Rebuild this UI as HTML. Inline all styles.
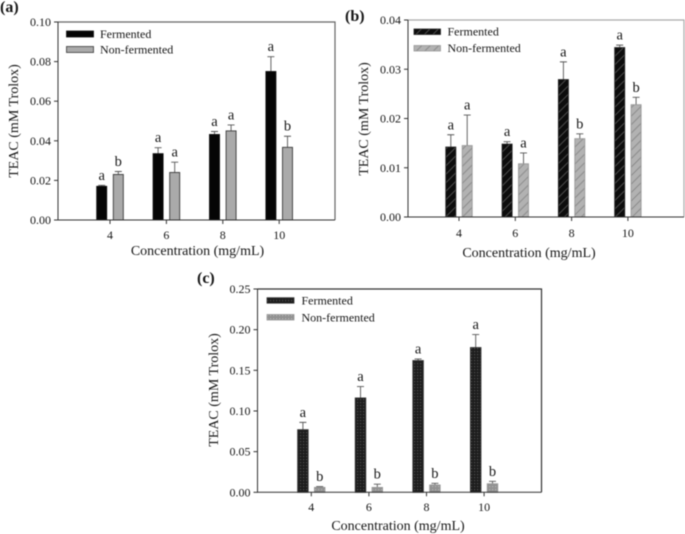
<!DOCTYPE html>
<html>
<head>
<meta charset="utf-8">
<style>
html,body{margin:0;padding:0;background:#fff;}
svg{display:block;filter:blur(0.5px);font-family:"Liberation Serif",serif;}
text{fill:#161616;}
</style>
</head>
<body>
<svg id="figure" width="685" height="534" viewBox="0 0 685 534" xmlns="http://www.w3.org/2000/svg">
<defs>
<pattern id="hatch-dark" patternUnits="userSpaceOnUse" width="6" height="6" patternTransform="rotate(45)"><rect width="6" height="6" fill="#0d0d0d"/><rect width="1" height="6" fill="#4c4c4c"/></pattern>
<pattern id="hatch-light" patternUnits="userSpaceOnUse" width="6" height="6" patternTransform="rotate(45)"><rect width="6" height="6" fill="#b2b2b2"/><rect width="1" height="6" fill="#8c8c8c"/></pattern>
<pattern id="cross-dark" patternUnits="userSpaceOnUse" width="3" height="3"><rect width="3" height="3" fill="#1c1c1c"/><rect width="1.2" height="1.2" fill="#505050"/></pattern>
<pattern id="cross-light" patternUnits="userSpaceOnUse" width="3" height="3"><rect width="3" height="3" fill="#909090"/><rect width="1.2" height="1.2" fill="#b4b4b4"/></pattern>
</defs>
</svg>
<script>
var categories = ['4', '6', '8', '10'];
var legendLabels = ['Fermented', 'Non-fermented'];

var yTicksA = ['0.00', '0.02', '0.04', '0.06', '0.08', '0.10'];
var fermentedA = [0.017, 0.0335, 0.0432, 0.075];
var fermentedErrA = [0.0005, 0.003, 0.0015, 0.0075];
var nonFermentedA = [0.023, 0.024, 0.045, 0.0367];
var nonFermentedErrA = [0.0015, 0.0052, 0.003, 0.0056];
var fermentedLettersA = ['a', 'a', 'a', 'a'];
var nonFermentedLettersA = ['b', 'a', 'a', 'b'];

var yTicksB = ['0.00', '0.01', '0.02', '0.03', '0.04'];
var fermentedB = [0.0142, 0.0148, 0.0279, 0.0344];
var fermentedErrB = [0.0025, 0.0005, 0.0036, 0.0005];
var nonFermentedB = [0.0145, 0.0108, 0.0159, 0.0228];
var nonFermentedErrB = [0.0062, 0.0022, 0.001, 0.0015];
var fermentedLettersB = ['a', 'a', 'a', 'a'];
var nonFermentedLettersB = ['a', 'a', 'b', 'b'];

var yTicksC = ['0.00', '0.05', '0.10', '0.15', '0.20', '0.25'];
var fermentedC = [0.077, 0.116, 0.162, 0.178];
var fermentedErrC = [0.009, 0.014, 0.002, 0.016];
var nonFermentedC = [0.006, 0.006, 0.009, 0.0105];
var nonFermentedErrC = [0.001, 0.004, 0.002, 0.003];
var fermentedLettersC = ['a', 'a', 'a', 'a'];
var nonFermentedLettersC = ['b', 'b', 'b', 'b'];

var NS = 'http://www.w3.org/2000/svg';
var root = document.getElementById('figure');

function make(parent, tag, props, content) {
  var el = document.createElementNS(NS, tag);
  for (var k in props) { el.setAttribute(k, props[k]); }
  if (content !== undefined) { el.textContent = content; }
  parent.appendChild(el);
  return el;
}

function drawPanel(cfg) {
  var g = make(root, 'g', {});
  
  

  var maxY = parseFloat(cfg.yTicks[cfg.yTicks.length - 1]);
  function yScale(v) { return cfg.bottom - (v / maxY) * (cfg.bottom - cfg.top); }
  function xScale(i) { return cfg.x0 + i * cfg.step; }

  var panelLabel = make(g, 'text', {x: cfg.labelX, y: cfg.labelY, 'font-size': 16, 'font-weight': 'bold', fill: '#111'}, '(' + cfg.id + ')');
  
  

  var frame = make(g, 'path', {d: 'M' + cfg.left + ' ' + cfg.top + 'H' + cfg.right + 'V' + cfg.bottom, fill: 'none', stroke: cfg.frameColor, 'stroke-width': 1.2});
  
  

  cfg.yTicks.forEach(function (label) {
    var y = yScale(parseFloat(label));
    var tick = make(g, 'line', {x1: cfg.left - 4, x2: cfg.left, y1: y, y2: y, stroke: '#333', 'stroke-width': 1});
    
    
    var text = make(g, 'text', {x: cfg.left - 7, y: y + 4, 'font-size': 12, 'text-anchor': 'end'}, label);
    
    
  });

  var yTitle = make(g, 'text', {transform: 'translate(' + cfg.yTitleX + ' ' + cfg.yTitleY + ') rotate(-90)', 'font-size': 14, 'text-anchor': 'middle'}, 'TEAC (mM Trolox)');
  
  

  categories.forEach(function (cat, i) {
    var cx = xScale(i);
    var tick = make(g, 'line', {x1: cx, x2: cx, y1: cfg.bottom, y2: cfg.bottom + 4, stroke: '#333', 'stroke-width': 1});
    
    
    var text = make(g, 'text', {x: cx, y: cfg.tickLabelY, 'font-size': 12, 'text-anchor': 'middle'}, cat);
    
    
  });

  var xTitle = make(g, 'text', {x: cfg.xTitleX, y: cfg.xTitleY, 'font-size': 14, 'text-anchor': 'middle'}, 'Concentration (mg/mL)');
  
  

  cfg.series.forEach(function (s, si) {
    var dir = si === 0 ? -1 : 1;
    s.values.forEach(function (v, i) {
      var cx = xScale(i) + dir * cfg.offset;
      var y = yScale(v);
      var errTop = yScale(v + s.errors[i]);
      var errLine = make(g, 'path', {d: 'M' + cx + ' ' + y + 'V' + errTop + 'M' + (cx - 3.5) + ' ' + errTop + 'H' + (cx + 3.5), fill: 'none', stroke: '#555', 'stroke-width': 0.9});
      
      
      var bar = make(g, 'rect', {x: cx - cfg.barW / 2, y: y, width: cfg.barW, height: cfg.bottom - y, fill: s.fill, stroke: s.stroke, 'stroke-width': 0.9});
      
      
      var letter = make(g, 'text', {x: cx, y: errTop - 5.5, 'font-size': 14.5, 'text-anchor': 'middle'}, s.letters[i]);
      
      
    });
  });

  var axes = make(g, 'path', {d: 'M' + cfg.left + ' ' + cfg.top + 'V' + cfg.bottom + 'H' + cfg.right, fill: 'none', stroke: '#333', 'stroke-width': 1});
  
  

  cfg.series.forEach(function (s, si) {
    var swatch = make(g, 'rect', {x: cfg.legendX, y: cfg.legendY[si], width: cfg.legendW, height: cfg.legendH, fill: s.fill, stroke: s.stroke, 'stroke-width': 0.8});
    
    
    var text = make(g, 'text', {x: cfg.legendTextX, y: cfg.legendBase[si], 'font-size': 12}, legendLabels[si]);
    
    
  });
}

drawPanel({
  id: 'a', labelX: 0, labelY: 12,
  left: 58, right: 335, top: 22, bottom: 220, frameColor: '#666',
  x0: 110, step: 56.4, offset: 8.3, barW: 10,
  yTicks: yTicksA, tickLabelY: 239,
  yTitleX: 18, yTitleY: 121, xTitleX: 197.5, xTitleY: 255,
  legendX: 66.5, legendW: 27, legendH: 6, legendY: [31, 46.5], legendTextX: 100, legendBase: [38, 53.5],
  series: [
    {key: 'fermented', values: fermentedA, errors: fermentedErrA, letters: fermentedLettersA, fill: '#050505', stroke: '#111'},
    {key: 'non-fermented', values: nonFermentedA, errors: nonFermentedErrA, letters: nonFermentedLettersA, fill: '#aaaaaa', stroke: '#3a3a3a'}
  ]
});

drawPanel({
  id: 'b', labelX: 345, labelY: 21,
  left: 408, right: 684, top: 20, bottom: 217, frameColor: '#aaa',
  x0: 459, step: 56.3, offset: 8.2, barW: 10,
  yTicks: yTicksB, tickLabelY: 237,
  yTitleX: 368, yTitleY: 119, xTitleX: 529, xTitleY: 257,
  legendX: 414, legendW: 26.5, legendH: 5.5, legendY: [29, 45.5], legendTextX: 447.5, legendBase: [35.5, 52],
  series: [
    {key: 'fermented', values: fermentedB, errors: fermentedErrB, letters: fermentedLettersB, fill: 'url(#hatch-dark)', stroke: '#222'},
    {key: 'non-fermented', values: nonFermentedB, errors: nonFermentedErrB, letters: nonFermentedLettersB, fill: 'url(#hatch-light)', stroke: '#999'}
  ]
});

drawPanel({
  id: 'c', labelX: 197, labelY: 283,
  left: 257.5, right: 541.5, top: 289, bottom: 492.3, frameColor: '#333',
  x0: 311.3, step: 57.6, offset: 8.4, barW: 10.5,
  yTicks: yTicksC, tickLabelY: 511,
  yTitleX: 218, yTitleY: 390, xTitleX: 398, xTitleY: 530,
  legendX: 267, legendW: 27, legendH: 5.5, legendY: [297.7, 314.5], legendTextX: 301.5, legendBase: [304.5, 321.5],
  series: [
    {key: 'fermented', values: fermentedC, errors: fermentedErrC, letters: fermentedLettersC, fill: 'url(#cross-dark)', stroke: '#333'},
    {key: 'non-fermented', values: nonFermentedC, errors: nonFermentedErrC, letters: nonFermentedLettersC, fill: 'url(#cross-light)', stroke: '#999'}
  ]
});
</script>
</body>
</html>
